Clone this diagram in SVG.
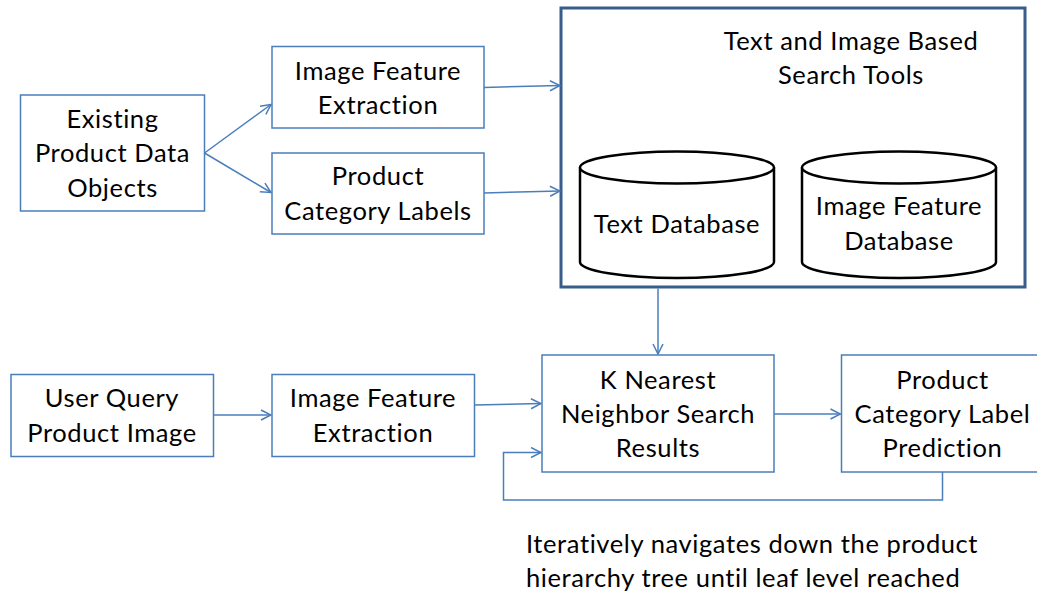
<svg xmlns="http://www.w3.org/2000/svg" width="1037" height="594" viewBox="0 0 1037 594">
  <style>
    text { font-family: Lato, "Open Sans", "Liberation Sans", sans-serif; font-size: 25.5px; letter-spacing: 0.6px; fill: #000; text-anchor: middle; }
    .box { fill: #fff; stroke: #4A7EBB; stroke-width: 1.5; }
    .frame { fill: #fff; stroke: #385D8A; stroke-width: 3; }
    .cyl { fill: #fff; stroke: #000; stroke-width: 2.5; }
    .edge { fill: none; stroke: #4A7EBB; stroke-width: 1.5; }
  </style>
  <defs>
    <marker id="arrow" viewBox="0 0 12 12" refX="11" refY="6" markerWidth="12" markerHeight="12" markerUnits="userSpaceOnUse" orient="auto">
      <path d="M1,1 L11,6 L1,11" fill="none" stroke="#4A7EBB" stroke-width="1.5"/>
    </marker>
  </defs>

  <rect width="1037" height="594" fill="#fff"/>

  <g id="existing-data">
    <rect class="box" x="20.5" y="95" width="184" height="116"/>
    <text x="112.5" y="127.5">Existing</text>
    <text x="112.5" y="162">Product Data</text>
    <text x="112.5" y="196.5">Objects</text>
  </g>

  <g id="image-feature-top">
    <rect class="box" x="272" y="46.5" width="212" height="81.5"/>
    <text x="378" y="79.5">Image Feature</text>
    <text x="378" y="113.5">Extraction</text>
  </g>

  <g id="category-labels">
    <rect class="box" x="272" y="153" width="212" height="81"/>
    <text x="378" y="185">Product</text>
    <text x="378" y="220">Category Labels</text>
  </g>

  <g id="search-tools">
    <rect class="frame" x="561" y="8" width="464" height="279"/>
    <text x="851" y="50">Text and Image Based</text>
    <text x="851" y="84">Search Tools</text>
  </g>

  <g id="text-database">
    <path class="cyl" d="M580,167.5 L580,262 A97,16 0 0 0 774,262 L774,167.5"/>
    <ellipse class="cyl" cx="677" cy="167.5" rx="97" ry="16"/>
    <text x="677" y="233">Text Database</text>
  </g>

  <g id="image-feature-database">
    <path class="cyl" d="M802,167.5 L802,262 A97,16 0 0 0 996,262 L996,167.5"/>
    <ellipse class="cyl" cx="899" cy="167.5" rx="97" ry="16"/>
    <text x="899" y="215">Image Feature</text>
    <text x="899" y="249.5">Database</text>
  </g>

  <g id="user-query">
    <rect class="box" x="11" y="374.5" width="202.5" height="82"/>
    <text x="112" y="407">User Query</text>
    <text x="112" y="442">Product Image</text>
  </g>

  <g id="image-feature-query">
    <rect class="box" x="272" y="374.5" width="202.5" height="82"/>
    <text x="373" y="407">Image Feature</text>
    <text x="373" y="442">Extraction</text>
  </g>

  <g id="knn-results">
    <rect class="box" x="542" y="355" width="232" height="117"/>
    <text x="658" y="388.5">K Nearest</text>
    <text x="658" y="423">Neighbor Search</text>
    <text x="658" y="457">Results</text>
  </g>

  <g id="label-prediction">
    <rect class="box" x="841.5" y="355" width="210" height="117"/>
    <text x="942.5" y="388.5">Product</text>
    <text x="942.5" y="423">Category Label</text>
    <text x="942.5" y="457">Prediction</text>
  </g>

  <g id="connectors">
    <line class="edge" x1="204.5" y1="153" x2="271" y2="104.5" marker-end="url(#arrow)"/>
    <line class="edge" x1="204.5" y1="153" x2="271" y2="192.5" marker-end="url(#arrow)"/>
    <line class="edge" x1="484" y1="87.5" x2="560" y2="85.5" marker-end="url(#arrow)"/>
    <line class="edge" x1="484" y1="193" x2="560" y2="191" marker-end="url(#arrow)"/>
    <line class="edge" x1="658" y1="288.5" x2="658" y2="354" marker-end="url(#arrow)"/>
    <line class="edge" x1="213.5" y1="415" x2="271" y2="415" marker-end="url(#arrow)"/>
    <line class="edge" x1="474.5" y1="405" x2="541" y2="403.5" marker-end="url(#arrow)"/>
    <line class="edge" x1="774" y1="414" x2="840.5" y2="414" marker-end="url(#arrow)"/>
    <polyline class="edge" points="942.5,472 942.5,500 503.5,500 503.5,452.5 541,452.5" marker-end="url(#arrow)"/>
  </g>

  <g id="loop-note">
    <text x="526" y="553" style="text-anchor:start">Iteratively navigates down the product</text>
    <text x="526" y="587" style="text-anchor:start">hierarchy tree until leaf level reached</text>
  </g>
</svg>
